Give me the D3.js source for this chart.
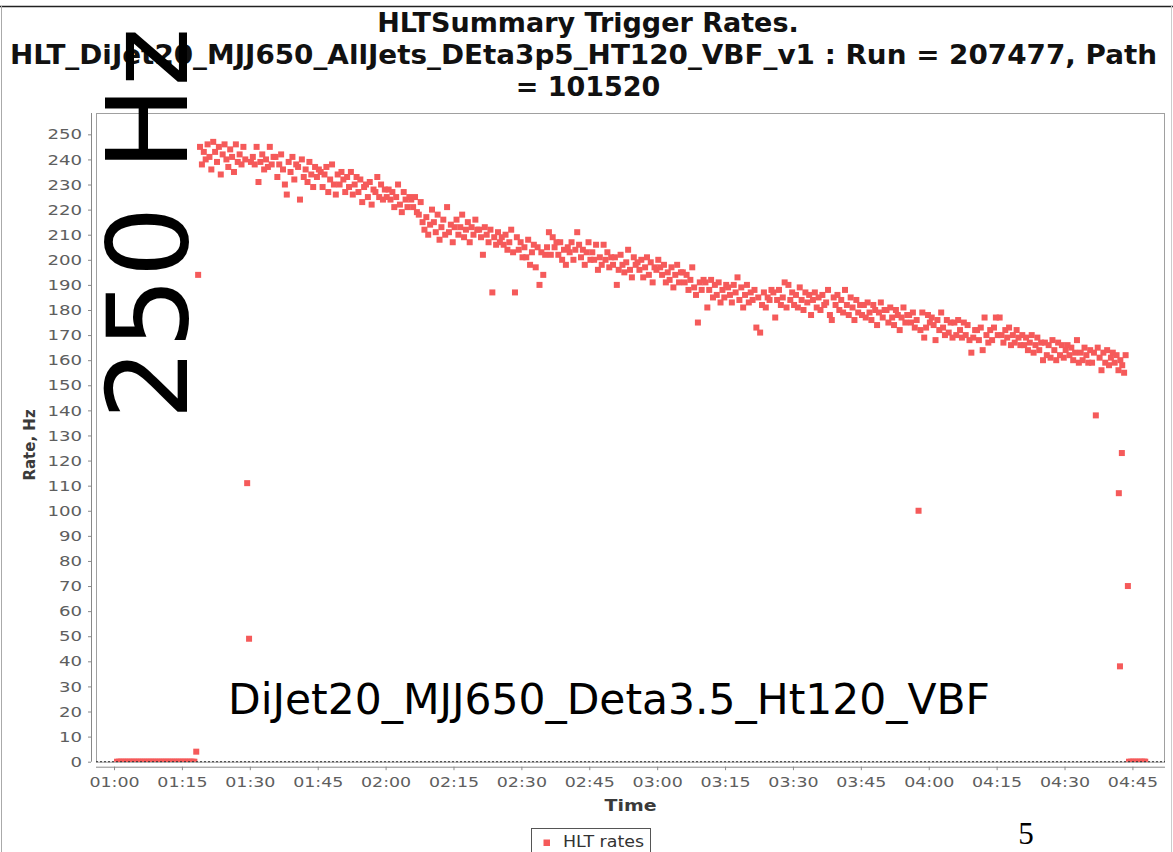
<!DOCTYPE html>
<html>
<head>
<meta charset="utf-8">
<script src="https://cdn.jsdelivr.net/npm/d3@7"></script>
<style>
  html, body { margin: 0; padding: 0; background: #fff; }
  svg { display: block; }
</style>
</head>
<body>
<svg id="chart" width="1173" height="852"></svg>
<script>
// HLT trigger rate per lumisection, run 207477, path 101520
const titleLines = [
  "HLTSummary Trigger Rates.",
  "HLT_DiJet20_MJJ650_AllJets_DEta3p5_HT120_VBF_v1 : Run = 207477, Path",
  "= 101520"
];
const seriesName = "HLT rates";
const xAxisLabel = "Time";
const yAxisLabel = "Rate, Hz";
const noteRate = "250 Hz";
const notePath = "DiJet20_MJJ650_Deta3.5_Ht120_VBF";
const pageNumber = "5";

// regular samples, one every 25 s starting at firstSample (Hz)
const firstSample = "01:00:40";
const sampleStepSec = 25;
const rates = [
  0,0,0,0,0,0,0,0,0,0,0,0,
  0,0,0,0,0,0,0,0,0,0,0,0,
  0,0,0,0,0,0,0,0,0,0,0,0,
  0,0,0,0,0,0,4,194,245,238,243,240,
  246,241,236,247,243,239,245,234,242,246,240,237,
  244,241,235,246,239,242,238,245,240,111,49,239,
  241,238,245,231,239,242,236,240,237,245,238,241,
  241,233,238,242,236,230,226,239,235,241,232,238,
  237,224,240,233,236,231,239,234,229,237,233,236,
  235,229,234,237,227,232,238,230,226,234,230,235,
  232,227,233,229,235,226,230,233,227,232,223,229,
  230,225,231,222,228,227,233,225,230,224,228,225,
  228,224,227,221,225,230,222,219,227,224,221,225,
  224,221,225,219,218,223,215,212,217,210,214,220,
  215,211,218,208,213,216,210,221,211,214,207,213,
  216,210,213,218,209,212,215,207,213,210,216,212,
  212,209,202,213,210,207,212,187,209,206,211,207,
  209,206,210,204,207,212,203,187,209,204,207,201,
  205,201,208,198,203,206,197,205,190,203,194,202,
  205,211,202,209,205,207,202,207,200,204,198,205,
  203,207,200,204,211,206,201,204,198,203,207,200,
  203,200,206,196,201,198,206,200,203,197,201,198,
  201,190,196,202,198,195,199,204,196,193,201,198,
  199,196,200,193,197,201,194,199,191,197,196,200,
  197,194,198,191,195,192,197,189,194,198,191,195,
  195,191,194,188,192,197,189,186,175,191,188,192,
  191,181,188,192,185,190,186,191,183,188,185,190,
  189,186,183,190,187,193,184,189,181,186,190,183,
  187,184,188,173,185,171,182,187,181,185,184,188,
  187,177,184,188,182,185,191,181,190,184,187,182,
  186,181,189,184,180,187,183,186,178,184,187,181,
  185,180,186,182,183,188,178,176,185,182,186,180,
  184,179,188,182,178,185,181,176,184,179,182,178,
  182,177,183,179,176,182,180,174,179,183,177,180,
  180,175,181,177,174,180,178,172,177,181,175,178,
  178,175,179,173,176,100,172,179,169,173,178,175,
  177,174,168,176,172,179,173,170,176,171,175,169,
  175,170,176,172,169,175,170,174,168,163,169,172,
  172,168,173,164,177,170,167,172,168,173,177,170,
  177,170,167,172,169,173,166,170,167,172,169,166,
  170,166,169,164,167,170,163,166,169,164,167,160,
  167,162,166,161,168,164,160,167,162,166,161,164,
  166,162,165,160,163,168,159,163,160,165,162,159,
  164,159,163,138,165,161,156,163,159,164,158,161,
  163,159,162,156,160,158,155
];

// end-of-fill samples with their own timestamps
const tailTimes = ["04:42:00","04:42:15","04:42:40","04:43:30","04:44:00",
  "04:44:15","04:44:40","04:45:05","04:45:30","04:45:55","04:46:20",
  "04:46:45","04:47:10","04:47:35","04:47:50"];
const tailRates = [107, 38, 123, 162, 70, 0, 0, 0, 0, 0, 0, 0, 0, 0, 0];

const xTickLabels = ["01:00","01:15","01:30","01:45","02:00","02:15","02:30","02:45",
  "03:00","03:15","03:30","03:45","04:00","04:15","04:30","04:45"];
const yTickValues = [0,10,20,30,40,50,60,70,80,90,100,110,120,130,140,150,160,170,
  180,190,200,210,220,230,240,250];
const xRange = ["00:56:01", "04:52:12"];
const yRange = [0, 258.5];

// ---------------------------------------------------------------
const W = 1173, H = 852;
const plot = { left: 96, top: 113, right: 1165, bottom: 761.7 };
const red = "#f55a5a";
const font = "'DejaVu Sans', Verdana, sans-serif";

const parseHMS = d3.timeParse("%H:%M:%S");
const parseHM = d3.timeParse("%H:%M");
const t0 = parseHMS(firstSample);

const points = rates.map((v, i) => ({ t: new Date(t0.getTime() + i * sampleStepSec * 1000), v }))
  .concat(tailTimes.map((s, i) => ({ t: parseHMS(s), v: tailRates[i] })));

const x = d3.scaleTime().domain(xRange.map(parseHMS)).range([plot.left, plot.right]);
const y = d3.scaleLinear().domain(yRange).range([plot.bottom, plot.top]);

const svg = d3.select("#chart").attr("font-family", font);

svg.append("rect").attr("width", W).attr("height", H).attr("fill", "#fff");

// stretch a text element horizontally by factor k
function widen(sel, k) {
  sel.each(function () {
    const w = this.getComputedTextLength();
    d3.select(this).attr("textLength", w * k).attr("lengthAdjust", "spacingAndGlyphs");
  });
}

// outer frame
svg.append("line").attr("x1", 0).attr("x2", W).attr("y1", 6.5).attr("y2", 6.5)
  .attr("stroke", "#222").attr("stroke-width", 1.5);
svg.append("line").attr("x1", 1.5).attr("x2", 1.5).attr("y1", 6).attr("y2", H)
  .attr("stroke", "#aaa");
svg.append("line").attr("x1", 1171.5).attr("x2", 1171.5).attr("y1", 6).attr("y2", H)
  .attr("stroke", "#ccc");

// titles
const title = svg.append("g").attr("font-weight", "bold").attr("fill", "#111")
  .attr("font-size", 27);
title.append("text").attr("x", 588).attr("y", 32).attr("text-anchor", "middle").text(titleLines[0]);
title.append("text").attr("x", 10).attr("y", 63.5).attr("textLength", 1147)
  .attr("lengthAdjust", "spacingAndGlyphs").text(titleLines[1]);
title.append("text").attr("x", 588).attr("y", 95.5).attr("text-anchor", "middle").text(titleLines[2]);

// plot outline
svg.append("rect")
  .attr("x", plot.left + 0.5).attr("y", plot.top + 0.5)
  .attr("width", plot.right - plot.left - 1).attr("height", plot.bottom - plot.top)
  .attr("fill", "none").attr("stroke", "#a0a0a0");

// y axis
const yAxis = svg.append("g").attr("transform", "translate(91,0)")
  .call(d3.axisLeft(y).tickValues(yTickValues).tickSize(3).tickSizeOuter(0).tickPadding(6));
yAxis.select(".domain").attr("stroke", "#888").attr("d", `M0.5,${plot.top}V${plot.bottom}`);
yAxis.selectAll(".tick line").attr("stroke", "#888");
yAxis.selectAll(".tick text").attr("font-family", font).attr("font-size", 14.5)
  .attr("fill", "#5e5e5e").call(widen, 1.25);

// x axis
const xAxis = svg.append("g").attr("transform", "translate(0,766.7)")
  .call(d3.axisBottom(x).tickValues(xTickLabels.map(parseHM))
    .tickFormat(d3.timeFormat("%H:%M")).tickSize(3.5).tickSizeOuter(0).tickPadding(6.5));
xAxis.select(".domain").attr("stroke", "#888").attr("d", `M${plot.left},0.5H${plot.right}`);
xAxis.selectAll(".tick line").attr("stroke", "#888");
xAxis.selectAll(".tick text").attr("font-family", font).attr("font-size", 14.5)
  .attr("fill", "#5e5e5e").call(widen, 1.2);

// axis labels
svg.append("text").attr("x", (plot.left + plot.right) / 2).attr("y", 811)
  .attr("text-anchor", "middle").attr("font-weight", "bold").attr("font-size", 16)
  .attr("fill", "#3a3a3a").attr("textLength", 52).attr("lengthAdjust", "spacingAndGlyphs")
  .text(xAxisLabel);
svg.append("text").attr("transform", "translate(35,445) rotate(-90)")
  .attr("text-anchor", "middle").attr("font-weight", "bold").attr("font-size", 15)
  .attr("fill", "#3a3a3a").text(yAxisLabel);

// data markers
svg.append("clipPath").attr("id", "plot-clip").append("rect")
  .attr("x", plot.left).attr("y", plot.top)
  .attr("width", plot.right - plot.left).attr("height", plot.bottom - plot.top);
svg.append("g").attr("clip-path", "url(#plot-clip)")
  .selectAll("rect").data(points).join("rect")
  .attr("x", d => x(d.t) - 3).attr("y", d => y(d.v) - 3)
  .attr("width", 6).attr("height", 6).attr("fill", red);

// zero line
svg.append("line").attr("x1", plot.left).attr("x2", plot.right)
  .attr("y1", y(0)).attr("y2", y(0))
  .attr("stroke", "#333").attr("stroke-width", 1).attr("stroke-dasharray", "2,2");

// legend
const legend = svg.append("g");
legend.append("rect").attr("x", 531.5).attr("y", 828.5).attr("width", 119).attr("height", 30)
  .attr("fill", "#fff").attr("stroke", "#555");
legend.append("rect").attr("x", 543.5).attr("y", 839.5).attr("width", 6.5).attr("height", 6.5)
  .attr("fill", red);
legend.append("text").attr("x", 563).attr("y", 847).attr("font-size", 16).attr("fill", "#333")
  .attr("textLength", 81).attr("lengthAdjust", "spacingAndGlyphs").text(seriesName);

// annotations
svg.append("text").attr("transform", "translate(187,420) rotate(-90)")
  .attr("font-size", 112).attr("fill", "#000").text(noteRate);
svg.append("text").attr("x", 228).attr("y", 714).attr("font-size", 42.4).attr("fill", "#000")
  .attr("textLength", 762).attr("lengthAdjust", "spacingAndGlyphs").text(notePath);
svg.append("text").attr("x", 1026).attr("y", 844).attr("text-anchor", "middle")
  .attr("font-family", "'Liberation Serif', 'Times New Roman', serif")
  .attr("font-size", 31).attr("fill", "#000").text(pageNumber);
</script>
</body>
</html>
